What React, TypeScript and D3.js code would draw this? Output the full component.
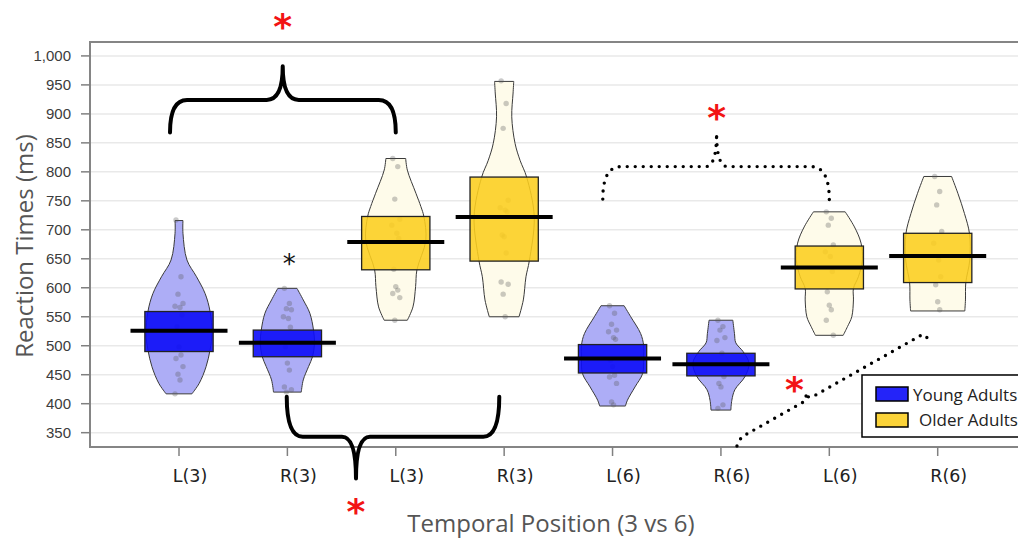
import React from "react";
import * as d3 from "d3";

// Conditions along the x axis (young / older adults, left / right ear, position 3 vs 6)
const categories = ["L(3)", "R(3)", "L(3)", "R(3)", "L(6)", "R(6)", "L(6)", "R(6)"];
const groups = [
  "Young Adults", "Young Adults", "Older Adults", "Older Adults",
  "Young Adults", "Young Adults", "Older Adults", "Older Adults",
];
const legendGroups = ["Young Adults", "Older Adults"];

// Mean reaction time and interval band per condition (ms)
const means = [526, 505, 679, 722, 478, 468, 635, 655];
const intervalLow = [490, 481, 631, 646, 453, 448, 598, 609];
const intervalHigh = [559, 527, 723, 791, 502, 487, 672, 694];

const yTicks = d3.range(350, 1001, 50);

// Individual participant reaction times (ms)
const rawTimes: number[][] = [
  [717, 619, 589, 573, 568, 566, 553, 533, 498, 484, 478, 464, 451, 441, 417],
  [599, 573, 564, 562, 550, 547, 532, 498, 470, 458, 429, 424, 420],
  [823, 809, 753, 718, 708, 694, 685, 632, 602, 596, 590, 583, 544],
  [957, 918, 875, 751, 738, 734, 731, 691, 688, 660, 610, 606, 589, 550],
  [569, 556, 537, 527, 524, 514, 511, 475, 464, 449, 446, 435, 403, 398],
  [544, 533, 527, 514, 509, 487, 447, 435, 429, 398, 392],
  [731, 720, 708, 674, 662, 654, 628, 593, 570, 562, 544, 518],
  [792, 766, 743, 697, 677, 648, 619, 605, 576, 562],
];

// Bean outlines: [reaction time, relative density]
const densities: [number, number][][] = [
  [[716, 0.12], [694, 0.12], [648, 0.24], [619, 0.53], [590, 0.79], [559, 0.94], [521, 1.0], [493, 0.94], [464, 0.82], [435, 0.61], [417, 0.39]],
  [[599, 0.29], [579, 0.48], [556, 0.68], [527, 0.79], [504, 0.82], [481, 0.76], [464, 0.64], [441, 0.48], [420, 0.42]],
  [[823, 0.3], [803, 0.35], [763, 0.61], [740, 0.76], [723, 0.85], [682, 0.91], [631, 0.64], [602, 0.6], [567, 0.52], [544, 0.35]],
  [[956, 0.29], [936, 0.27], [895, 0.23], [849, 0.33], [820, 0.48], [791, 0.68], [723, 0.91], [646, 0.76], [619, 0.66], [579, 0.58], [550, 0.45]],
  [[569, 0.35], [550, 0.55], [521, 0.85], [501, 0.94], [478, 0.94], [452, 0.91], [429, 0.68], [406, 0.45], [396, 0.39]],
  [[544, 0.36], [521, 0.41], [505, 0.45], [490, 0.67], [470, 0.85], [447, 0.73], [424, 0.42], [406, 0.33], [389, 0.3]],
  [[731, 0.48], [705, 0.76], [677, 0.96], [648, 1.0], [619, 0.88], [599, 0.73], [579, 0.73], [550, 0.68], [533, 0.55], [518, 0.42]],
  [[792, 0.42], [763, 0.61], [728, 0.81], [694, 0.96], [648, 0.97], [609, 0.85], [579, 0.84], [560, 0.82]],
];

// Significance braces, in [condition index, ms] coordinates
type Pt = [number, number];
interface Brace { p0: Pt; a: Pt; b: Pt; p1: Pt; tip: Pt; star: Pt; dotted: boolean; r: number; rt: number; }
const braces: Brace[] = [
  { p0: [-0.083, 868], a: [-0.083, 924], b: [2.0, 924], p1: [2.0, 868], tip: [0.957, 982], star: [0.957, 1062], dotted: false, r: 17, rt: 16 },
  { p0: [0.994, 412], a: [0.994, 343], b: [2.955, 343], p1: [2.955, 412], tip: [1.633, 271], star: [1.633, 225], dotted: false, r: 16, rt: 14 },
  { p0: [3.91, 753], a: [3.91, 809], b: [6.0, 809], p1: [6.0, 751], tip: [4.96, 867], star: [4.96, 904], dotted: true, r: 18, rt: 11 },
  { p0: [5.148, 327], a: [5.176, 341], b: [6.883, 522], p1: [6.919, 508], tip: [5.775, 418], star: [5.677, 436], dotted: true, r: 4, rt: 6 },
];
const minorStar: Pt = [1.017, 648];

const W = 1018;
const H = 538;
const plot = { left: 90, top: 42, bottom: 447, right: 1030 };

const fillFor: Record<string, { bean: string; box: string }> = {
  "Young Adults": { bean: "#adadf6", box: "rgba(12,12,248,0.9)" },
  "Older Adults": { bean: "#fefbea", box: "rgba(252,206,30,0.88)" },
};

const x = d3.scaleLinear().domain([0, 7]).range([179, 937.7]);
const y = d3.scaleLinear().domain([325.3, 1024]).range([plot.bottom, plot.top]);
const step = x(1) - x(0);
const widthScale = d3.scaleLinear().domain([0, 1]).range([0, step * 0.305]);

function bracePath(b: Brace): string {
  const P = (p: Pt): [number, number] => [x(p[0]), y(p[1])];
  const p0 = P(b.p0), A = P(b.a), B = P(b.b), p1 = P(b.p1), Tp = P(b.tip);
  const len = Math.hypot(B[0] - A[0], B[1] - A[1]);
  const d = [(B[0] - A[0]) / len, (B[1] - A[1]) / len];
  const s = (Tp[0] - A[0]) * d[0] + (Tp[1] - A[1]) * d[1];
  const T = [A[0] + d[0] * s, A[1] + d[1] * s];
  const p = d3.path();
  p.moveTo(p0[0], p0[1]);
  p.quadraticCurveTo(A[0], A[1], A[0] + d[0] * b.r, A[1] + d[1] * b.r);
  p.lineTo(T[0] - d[0] * b.rt, T[1] - d[1] * b.rt);
  p.quadraticCurveTo(T[0], T[1], Tp[0], Tp[1]);
  p.quadraticCurveTo(T[0], T[1], T[0] + d[0] * b.rt, T[1] + d[1] * b.rt);
  p.lineTo(B[0] - d[0] * b.r, B[1] - d[1] * b.r);
  p.quadraticCurveTo(B[0], B[1], p1[0], p1[1]);
  return p.toString();
}

const jitter = [-3, 2, -1, 4, -4, 1, 3, -2, 0, 2, -3, 4, -1, 1, -4];

function Star({ at, size, color, bold }: { at: Pt; size: number; color: string; bold: boolean }) {
  return (
    <text
      x={x(at[0])}
      y={y(at[1]) + size * 0.52}
      textAnchor="middle"
      fontFamily="DejaVu Sans"
      fontWeight={bold ? "bold" : "normal"}
      fontSize={size}
      fill={color}
    >
      *
    </text>
  );
}

export default function App() {
  const area = (i: number) =>
    d3
      .area<[number, number]>()
      .y((d) => y(d[0]))
      .x0((d) => x(i) - widthScale(d[1]))
      .x1((d) => x(i) + widthScale(d[1]))
      .curve(d3.curveCatmullRom)(densities[i]) || "";

  return (
    <svg width={W} height={H} style={{ position: "absolute", left: 0, top: 0, background: "#fff" }}>
      <defs>
        <clipPath id="plotClip">
          <rect x={plot.left} y={plot.top} width={plot.right - plot.left} height={plot.bottom - plot.top} />
        </clipPath>
      </defs>

      {/* grid */}
      {yTicks.map((t) => (
        <line key={t} x1={plot.left} x2={plot.right} y1={y(t)} y2={y(t)} stroke="#e9e9e9" strokeWidth={1.5} />
      ))}

      {/* beans, points, intervals, means */}
      <g clipPath="url(#plotClip)">
        {categories.map((_, i) => {
          const col = fillFor[groups[i]];
          const cx = x(i);
          const boxW = step * 0.63;
          const meanW = step * 0.895;
          return (
            <g key={i}>
              <path d={area(i)} fill={col.bean} stroke="#3a3a3a" strokeWidth={1} />
              {rawTimes[i].map((v, j) => (
                <circle key={j} cx={cx + jitter[j % jitter.length]} cy={y(v)} r={2.7} fill="rgba(90,90,90,0.32)" />
              ))}
              <rect
                x={cx - boxW / 2}
                y={y(intervalHigh[i])}
                width={boxW}
                height={y(intervalLow[i]) - y(intervalHigh[i])}
                fill={col.box}
                stroke="#222"
                strokeWidth={1.3}
              />
              <line x1={cx - meanW / 2} x2={cx + meanW / 2} y1={y(means[i])} y2={y(means[i])} stroke="#000" strokeWidth={4} />
            </g>
          );
        })}
      </g>

      {/* frame */}
      <rect
        x={plot.left}
        y={plot.top}
        width={plot.right - plot.left}
        height={plot.bottom - plot.top}
        fill="none"
        stroke="#858585"
        strokeWidth={2}
      />

      {/* y axis */}
      {yTicks.map((t) => (
        <g key={t}>
          <line x1={plot.left - 9} x2={plot.left} y1={y(t)} y2={y(t)} stroke="#808080" strokeWidth={1.5} />
          <text
            x={plot.left - 19}
            y={y(t) + 5.5}
            textAnchor="end"
            fontFamily="Liberation Sans"
            fontSize={15}
            fill="#3c3c3c"
          >
            {d3.format(",")(t)}
          </text>
        </g>
      ))}
      <text
        transform={`translate(33,246) rotate(-90)`}
        textAnchor="middle"
        fontFamily="Open Sans"
        fontSize={24}
        fill="#555"
      >
        Reaction Times (ms)
      </text>

      {/* x axis */}
      {categories.map((c, i) => (
        <g key={i}>
          <line x1={x(i)} x2={x(i)} y1={plot.bottom} y2={plot.bottom + 9} stroke="#808080" strokeWidth={1.5} />
          <text x={x(i) + 11} y={481.5} textAnchor="middle" fontFamily="DejaVu Sans" fontSize={17.5} fill="#222">
            {c}
          </text>
        </g>
      ))}
      <text x={551} y={532} textAnchor="middle" fontFamily="Open Sans" fontSize={24} fill="#555">
        Temporal Position (3 vs 6)
      </text>

      {/* significance braces */}
      {braces.map((b, i) => (
        <g key={i}>
          <path
            d={bracePath(b)}
            fill="none"
            stroke="#000"
            strokeWidth={b.dotted ? 3.4 : 4}
            strokeLinecap="round"
            strokeLinejoin="round"
            strokeDasharray={b.dotted ? "0 8" : undefined}
          />
          <Star at={b.star} size={36} color="#f21414" bold />
        </g>
      ))}
      <Star at={minorStar} size={26} color="#111" bold={false} />

      {/* legend */}
      <g>
        <rect x={862} y={375} width={200} height={62} fill="#fff" stroke="#000" strokeWidth={1.5} />
        {legendGroups.map((g, i) => (
          <g key={g}>
            <rect x={876} y={387 + i * 26} width={32} height={14} fill={fillFor[g].box} stroke="#000" strokeWidth={1.5} />
            <text x={913 + i * 6} y={400.5 + i * 25.5} fontFamily="Open Sans" fontSize={17} fill="#222">
              {g}
            </text>
          </g>
        ))}
      </g>
    </svg>
  );
}
